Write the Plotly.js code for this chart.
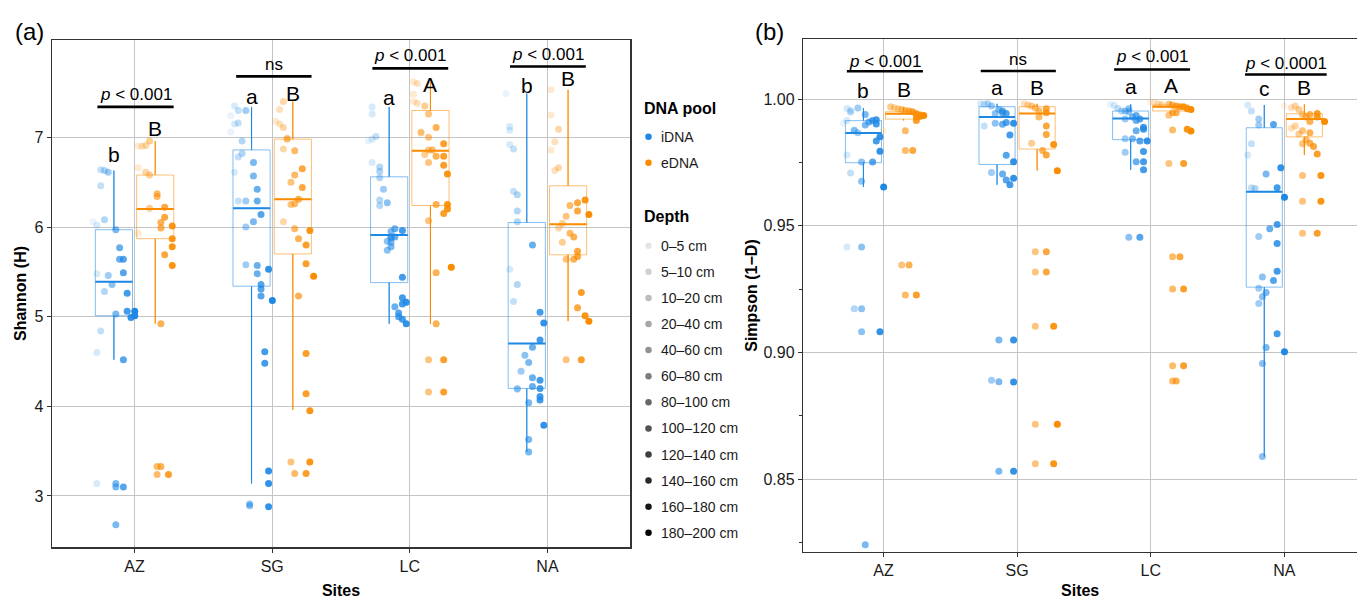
<!DOCTYPE html>
<html>
<head>
<meta charset="utf-8">
<script src="https://cdn.plot.ly/plotly-3.0.1.min.js"></script>
<style>html,body{margin:0;padding:0;background:#fff}#chart{width:1357px;height:599px}</style>
</head>
<body>
<div id="chart"></div>
<script>
// ---------------- DATA ----------------
const sites = ['AZ', 'SG', 'LC', 'NA'];
const pools = ['iDNA', 'eDNA'];
const depthLabels = ['0–5 cm', '5–10 cm', '10–20 cm', '20–40 cm', '40–60 cm', '60–80 cm',
  '80–100 cm', '100–120 cm', '120–140 cm', '140–160 cm', '160–180 cm', '180–200 cm'];

// Shannon (H): [value, depth class index]
const H_AZ_iDNA = [[6.64,2],[6.63,3],[6.61,4],[6.46,2],[6.06,0],[6.02,1],[6.08,3],[5.97,6],[5.77,7],[5.64,7],[5.64,8],[5.49,8],[5.46,4],[5.48,1],[5.36,5],[5.28,3],[5.26,9],[5.06,9],[5.06,11],[5.03,6],[4.99,10],[5.01,11],[4.84,2],[4.60,1],[4.52,8],[3.14,1],[3.14,6],[3.10,6],[3.10,8],[2.68,6]];
const H_AZ_eDNA = [[6.96,4],[6.91,3],[6.90,1],[6.90,2],[6.66,1],[6.61,3],[6.58,4],[6.37,6],[6.34,6],[6.21,4],[6.22,8],[6.11,8],[6.05,7],[5.99,7],[6.01,10],[5.93,1],[5.87,10],[5.78,10],[5.69,8],[5.57,10],[4.92,7],[3.33,6],[3.33,7],[3.24,6],[3.24,9]];
const H_SG_iDNA = [[7.35,1],[7.30,2],[7.30,4],[7.24,0],[7.16,2],[7.15,1],[7.06,0],[6.96,3],[6.82,3],[6.78,2],[6.72,6],[6.61,1],[6.57,6],[6.42,7],[6.29,7],[6.29,2],[6.29,4],[6.14,8],[6.06,6],[6.00,4],[5.58,4],[5.57,7],[5.53,10],[5.48,7],[5.36,8],[5.31,8],[5.23,8],[5.18,11],[4.61,9],[4.48,9],[3.28,10],[3.14,10],[2.91,5],[2.89,5],[2.88,10]];
const H_SG_eDNA = [[7.40,3],[7.31,2],[7.18,1],[7.15,2],[7.11,3],[6.99,4],[6.98,4],[6.87,3],[6.85,6],[6.65,8],[6.58,6],[6.50,5],[6.44,8],[6.31,7],[6.25,5],[6.26,6],[6.06,3],[5.98,6],[5.96,10],[5.87,7],[5.80,9],[5.59,9],[5.45,11],[5.23,7],[4.59,9],[4.14,9],[3.95,10],[3.38,5],[3.38,10],[3.25,6],[3.25,9]];
const H_LC_iDNA = [[7.34,1],[7.26,1],[7.01,2],[6.98,1],[6.96,0],[6.72,1],[6.67,3],[6.62,3],[6.55,3],[6.42,4],[6.30,3],[6.27,5],[6.24,3],[5.98,7],[5.96,9],[5.95,6],[5.89,6],[5.89,7],[5.88,6],[5.84,5],[5.83,6],[5.78,6],[5.74,5],[5.44,9],[5.21,9],[5.16,10],[5.14,9],[5.11,7],[5.04,8],[5.00,8],[4.97,9],[4.92,10]];
const H_LC_eDNA = [[7.62,1],[7.60,2],[7.48,1],[7.40,1],[7.38,2],[7.35,4],[7.26,5],[7.11,7],[7.06,3],[7.05,3],[7.00,5],[6.93,9],[6.86,5],[6.86,6],[6.81,4],[6.79,7],[6.79,9],[6.72,5],[6.69,9],[6.59,10],[6.25,7],[6.25,10],[6.20,10],[6.15,9],[6.07,5],[5.55,11],[5.49,7],[4.92,7],[4.52,5],[4.52,9],[4.16,5],[4.16,9]];
const H_NA_iDNA = [[7.49,0],[7.12,1],[7.08,1],[6.92,1],[6.87,2],[6.40,2],[6.36,3],[6.18,3],[6.06,3],[5.80,7],[5.53,1],[5.36,3],[5.17,2],[5.05,9],[4.93,10],[4.74,9],[4.66,7],[4.57,5],[4.49,6],[4.39,4],[4.32,7],[4.29,9],[4.22,7],[4.20,9],[4.20,3],[4.19,3],[4.11,9],[4.07,9],[4.04,6],[3.79,10],[3.63,6],[3.49,6]];
const H_NA_eDNA = [[7.53,1],[7.25,1],[7.09,3],[6.95,2],[6.86,1],[6.66,3],[6.63,2],[6.30,10],[6.27,8],[6.24,6],[6.18,8],[6.14,11],[6.12,5],[6.04,4],[5.99,3],[5.93,6],[5.89,7],[5.83,4],[5.73,8],[5.67,8],[5.64,7],[5.64,5],[5.27,9],[5.10,8],[5.01,10],[4.95,11],[4.52,5],[4.52,9]];

// Shannon box statistics per site (AZ, SG, LC, NA)
const H_iDNA_lower  = [4.52, 3.14, 4.92, 3.49];
const H_iDNA_q1     = [5.01, 5.34, 5.38, 4.20];
const H_iDNA_median = [5.39, 6.21, 5.91, 4.70];
const H_iDNA_q3     = [5.97, 6.86, 6.56, 6.05];
const H_iDNA_upper  = [6.63, 7.34, 7.34, 7.49];
const H_eDNA_lower  = [4.92, 3.96, 4.92, 4.95];
const H_eDNA_q1     = [5.87, 5.70, 6.24, 5.69];
const H_eDNA_median = [6.20, 6.31, 6.85, 6.03];
const H_eDNA_q3     = [6.58, 6.98, 7.30, 6.46];
const H_eDNA_upper  = [6.96, 7.40, 7.62, 7.53];

// Simpson (1-D): [value, depth class index]
const S_AZ_iDNA = [[0.9965,4],[0.9963,1],[0.9955,2],[0.9948,2],[0.9939,6],[0.9919,9],[0.9916,8],[0.9916,1],[0.9910,7],[0.9905,0],[0.9902,9],[0.9898,6],[0.9878,3],[0.9875,3],[0.9867,4],[0.9851,10],[0.9835,9],[0.9794,10],[0.9779,1],[0.9752,5],[0.9752,8],[0.9708,2],[0.9676,5],[0.9653,11],[0.9416,1],[0.9416,5],[0.9173,3],[0.9173,5],[0.9082,5],[0.9082,10],[0.8241,6]];
const S_AZ_eDNA = [[0.9875,0],[0.9970,2],[0.9969,2],[0.9966,3],[0.9962,4],[0.9959,5],[0.9955,6],[0.9953,7],[0.9950,8],[0.9942,9],[0.9935,10],[0.9935,11],[0.9932,10],[0.9929,9],[0.9916,9],[0.9875,6],[0.9797,6],[0.9797,8],[0.9345,5],[0.9345,7],[0.9227,6],[0.9227,9]];
const S_SG_iDNA = [[0.9982,1],[0.9982,3],[0.9980,2],[0.9973,4],[0.9959,6],[0.9953,7],[0.9946,7],[0.9943,8],[0.9943,5],[0.9894,2],[0.9905,5],[0.9901,7],[0.9908,8],[0.9905,10],[0.9858,9],[0.9778,8],[0.9710,4],[0.9704,7],[0.9753,10],[0.9681,8],[0.9688,10],[0.9662,9],[0.9049,6],[0.9049,10],[0.8891,4],[0.8885,6],[0.8884,10],[0.8531,6],[0.8531,10]];
const S_SG_eDNA = [[0.9982,2],[0.9977,3],[0.9973,4],[0.9966,5],[0.9953,6],[0.9962,8],[0.9946,8],[0.9929,6],[0.9894,8],[0.9860,8],[0.9826,4],[0.9797,7],[0.9779,8],[0.9821,10],[0.9717,11],[0.9398,5],[0.9398,8],[0.9318,5],[0.9318,8],[0.9104,5],[0.9104,10],[0.8717,5],[0.8717,11],[0.8561,5],[0.8561,10]];
const S_LC_iDNA = [[0.9980,0],[0.9976,1],[0.9963,2],[0.9962,5],[0.9953,3],[0.9953,4],[0.9950,5],[0.9935,7],[0.9929,6],[0.9921,4],[0.9921,8],[0.9916,7],[0.9889,9],[0.9881,9],[0.9875,7],[0.9844,6],[0.9844,4],[0.9835,8],[0.9835,10],[0.9793,9],[0.9790,4],[0.9753,7],[0.9753,9],[0.9721,9],[0.9455,5],[0.9455,8]];
const S_LC_eDNA = [[0.9989,0],[0.9986,1],[0.9982,2],[0.9980,5],[0.9978,3],[0.9976,6],[0.9973,7],[0.9970,8],[0.9970,9],[0.9962,10],[0.9959,11],[0.9946,6],[0.9946,7],[0.9936,5],[0.9881,10],[0.9878,6],[0.9874,11],[0.9746,5],[0.9746,9],[0.9378,6],[0.9378,8],[0.9251,6],[0.9251,9],[0.8948,6],[0.8948,9],[0.8888,6],[0.8888,7]];
const S_NA_iDNA = [[0.9977,1],[0.9953,2],[0.9921,4],[0.9898,4],[0.9900,8],[0.9824,2],[0.9779,1],[0.9704,6],[0.9729,10],[0.9650,2],[0.9647,3],[0.9650,9],[0.9613,11],[0.9505,9],[0.9488,7],[0.9458,4],[0.9430,9],[0.9298,5],[0.9284,8],[0.9321,9],[0.9254,4],[0.9220,5],[0.9237,6],[0.9193,4],[0.9074,9],[0.9020,6],[0.9003,11],[0.8957,5],[0.8590,5]];
const S_NA_eDNA = [[0.9973,0],[0.9973,3],[0.9966,2],[0.9959,4],[0.9939,5],[0.9929,6],[0.9939,7],[0.9943,9],[0.9929,9],[0.9912,11],[0.9885,2],[0.9894,3],[0.9875,5],[0.9912,7],[0.9867,7],[0.9862,4],[0.9824,5],[0.9840,6],[0.9826,7],[0.9813,8],[0.9783,9],[0.9699,5],[0.9699,10],[0.9597,5],[0.9597,10],[0.9471,5],[0.9471,9]];

// Simpson box statistics per site (AZ, SG, LC, NA)
const S_iDNA_lower  = [0.9653, 0.9662, 0.9721, 0.8590];
const S_iDNA_q1     = [0.9749, 0.9742, 0.9840, 0.9258];
const S_iDNA_median = [0.9866, 0.9929, 0.9923, 0.9634];
const S_iDNA_q3     = [0.9915, 0.9970, 0.9953, 0.9887];
const S_iDNA_upper  = [0.9965, 0.9982, 0.9980, 0.9977];
const S_eDNA_lower  = [0.9916, 0.9718, 0.9939, 0.9779];
const S_eDNA_q1     = [0.9921, 0.9803, 0.9953, 0.9851];
const S_eDNA_median = [0.9942, 0.9943, 0.9970, 0.9921];
const S_eDNA_q3     = [0.9950, 0.9970, 0.9977, 0.9942];
const S_eDNA_upper  = [0.9969, 0.9982, 0.9991, 0.9980];

// Test results
const H_pText = ['<i>p</i> < 0.001', 'ns', '<i>p</i> < 0.001', '<i>p</i> < 0.001'];
const H_letters_iDNA = ['b', 'a', 'a', 'b'];
const H_letters_eDNA = ['B', 'B', 'A', 'B'];
const S_pText = ['<i>p</i> < 0.001', 'ns', '<i>p</i> < 0.001', '<i>p</i> < 0.0001'];
const S_letters_iDNA = ['b', 'a', 'a', 'c'];
const S_letters_eDNA = ['B', 'B', 'A', 'B'];

// ---------------- STYLE / BUILD ----------------
const W = 1357, Hh = 599;
const FONT = 'Liberation Sans, Arial, Helvetica, sans-serif';
const COL = {iDNA: [30, 136, 229], eDNA: [251, 140, 0]};
const rgba = (c, a) => `rgba(${c[0]},${c[1]},${c[2]},${a})`;
const alphaOf = d => 0.1 + 0.9 * d / 11;
const poolOff = {iDNA: -0.15, eDNA: 0.15};
const dodgeStep = 0.0275;
const boxW = 0.27;

const groupsH = {iDNA: [H_AZ_iDNA, H_SG_iDNA, H_LC_iDNA, H_NA_iDNA], eDNA: [H_AZ_eDNA, H_SG_eDNA, H_LC_eDNA, H_NA_eDNA]};
const groupsS = {iDNA: [S_AZ_iDNA, S_SG_iDNA, S_LC_iDNA, S_NA_iDNA], eDNA: [S_AZ_eDNA, S_SG_eDNA, S_LC_eDNA, S_NA_eDNA]};
const statsH = {
  iDNA: {lower: H_iDNA_lower, q1: H_iDNA_q1, median: H_iDNA_median, q3: H_iDNA_q3, upper: H_iDNA_upper},
  eDNA: {lower: H_eDNA_lower, q1: H_eDNA_q1, median: H_eDNA_median, q3: H_eDNA_q3, upper: H_eDNA_upper}
};
const statsS = {
  iDNA: {lower: S_iDNA_lower, q1: S_iDNA_q1, median: S_iDNA_median, q3: S_iDNA_q3, upper: S_iDNA_upper},
  eDNA: {lower: S_eDNA_lower, q1: S_eDNA_q1, median: S_eDNA_median, q3: S_eDNA_q3, upper: S_eDNA_upper}
};

const traces = [];
function addPanel(groups, stats, xa, ya) {
  pools.forEach(pool => {
    const st = stats[pool], col = COL[pool];
    const cx = sites.map((s, i) => i + 1 + poolOff[pool]);
    traces.push({
      type: 'box', x: cx, q1: st.q1, median: st.median, q3: st.q3,
      lowerfence: st.lower, upperfence: st.upper, width: boxW, whiskerwidth: 0,
      boxpoints: false, line: {color: rgba(col, 0.55), width: 1},
      fillcolor: 'rgba(0,0,0,0)', xaxis: xa, yaxis: ya, hoverinfo: 'skip', showlegend: false, name: pool
    });
    const lx = [], ly = [], mx = [], my = [];
    cx.forEach((c, i) => {
      lx.push(c, c, null, c, c, null);
      ly.push(st.q3[i], st.upper[i], null, st.q1[i], st.lower[i], null);
      mx.push(c - boxW / 2, c + boxW / 2, null);
      my.push(st.median[i], st.median[i], null);
    });
    traces.push({type: 'scatter', mode: 'lines', x: lx, y: ly, line: {color: rgba(col, 1), width: 1.1},
      xaxis: xa, yaxis: ya, hoverinfo: 'skip', showlegend: false});
    traces.push({type: 'scatter', mode: 'lines', x: mx, y: my, line: {color: rgba(col, 1), width: 2},
      xaxis: xa, yaxis: ya, hoverinfo: 'skip', showlegend: false});
  });
  pools.forEach(pool => {
    const col = COL[pool];
    const x = [], y = [], c = [];
    groups[pool].forEach((pts, si) => {
      pts.forEach(([v, d]) => {
        x.push(si + 1 + poolOff[pool] + (d - 5.5) * dodgeStep);
        y.push(v);
        c.push(rgba(col, alphaOf(d)));
      });
    });
    traces.push({type: 'scatter', mode: 'markers', x, y, marker: {size: 7, color: c, line: {width: 0}},
      xaxis: xa, yaxis: ya, hoverinfo: 'skip', showlegend: false, name: pool});
  });
}
addPanel(groupsH, statsH, 'x', 'y');
addPanel(groupsS, statsS, 'x2', 'y2');

// Legend (drawn on a hidden pixel-scaled axis)
const legX = 648.5, legTextX = 659;
const poolRowY = [136.7, 162.7];
const depthRow0 = 245.7, depthStep = 26.1;
traces.push({type: 'scatter', mode: 'markers', x: pools.map(() => legX), y: poolRowY,
  marker: {size: 6.5, color: pools.map(p => rgba(COL[p], 1))}, xaxis: 'x3', yaxis: 'y3', hoverinfo: 'skip', showlegend: false});
traces.push({type: 'scatter', mode: 'markers', x: depthLabels.map(() => legX),
  y: depthLabels.map((l, i) => depthRow0 + i * depthStep),
  marker: {size: 6.5, color: depthLabels.map((l, i) => `rgba(0,0,0,${alphaOf(i)})`)},
  xaxis: 'x3', yaxis: 'y3', hoverinfo: 'skip', showlegend: false});

const annotations = [];
const shapes = [];
const txt = (text, x, y, xref, yref, size, opts) => Object.assign({text, x, y, xref, yref, showarrow: false,
  font: {family: FONT, size, color: '#000'}, xanchor: 'center', yanchor: 'middle'}, opts || {});

// legend texts
annotations.push(txt('<b>DNA pool</b>', 641.5, 108.3, 'x3', 'y3', 16, {xanchor: 'left'}));
pools.forEach((p, i) => annotations.push(txt(p, legTextX, poolRowY[i], 'x3', 'y3', 14, {xanchor: 'left', font: {family: FONT, size: 14, color: '#1a1a1a'}})));
annotations.push(txt('<b>Depth</b>', 641.5, 216.7, 'x3', 'y3', 16, {xanchor: 'left'}));
depthLabels.forEach((l, i) => annotations.push(txt(l, legTextX, depthRow0 + i * depthStep, 'x3', 'y3', 14, {xanchor: 'left', font: {family: FONT, size: 14, color: '#1a1a1a'}})));

// significance annotations (layout positions)
const sigH = {p: [7.48, 7.81, 7.91, 7.92], bar: [7.34, 7.68, 7.77, 7.79],
  li: [6.81, 7.455, 7.44, 7.58], le: [7.10, 7.49, 7.59, 7.66], b0: [-0.27, -0.262, -0.272, -0.272], b1: [0.284, 0.286, 0.279, 0.279]};
const sigS = {p: [1.0147, 1.0158, 1.0167, 1.0141], bar: [1.0110, 1.0111, 1.0117, 1.0097],
  li: [1.0033, 1.0044, 1.0051, 1.0040], le: [1.0038, 1.0047, 1.0055, 1.0046], b0: [-0.274, -0.272, -0.274, -0.294], b1: [0.295, 0.29, 0.295, 0.317]};
function addSig(pText, li, le, pos, xr, yr) {
  sites.forEach((s, i) => {
    const c = i + 1;
    annotations.push(txt(pText[i], c + (pos.b0[i] + pos.b1[i]) / 2, pos.p[i], xr, yr, 17));
    shapes.push({type: 'line', xref: xr, yref: yr, x0: c + pos.b0[i], x1: c + pos.b1[i], y0: pos.bar[i], y1: pos.bar[i],
      line: {color: '#000', width: 2.6}});
    annotations.push(txt(li[i], c + poolOff.iDNA, pos.li[i], xr, yr, 21));
    annotations.push(txt(le[i], c + poolOff.eDNA, pos.le[i], xr, yr, 21));
  });
}
addSig(H_pText, H_letters_iDNA, H_letters_eDNA, sigH, 'x', 'y');
addSig(S_pText, S_letters_iDNA, S_letters_eDNA, sigS, 'x2', 'y2');

annotations.push(txt('(a)', 29.7 / W, 1 - 31 / Hh, 'paper', 'paper', 24));
annotations.push(txt('(b)', 769.3 / W, 1 - 31 / Hh, 'paper', 'paper', 24));

const axBase = {
  showgrid: true, gridcolor: '#c4c4c4', gridwidth: 1, zeroline: false,
  showline: true, linecolor: '#333', linewidth: 1.5,
  ticks: 'outside', ticklen: 4, tickcolor: '#333', tickwidth: 1,
  tickfont: {family: FONT, size: 16, color: '#1a1a1a'}, fixedrange: true
};
const titleFont = {family: FONT, size: 16, color: '#000'};

const layout = {
  width: W, height: Hh, margin: {l: 0, r: 0, t: 0, b: 0},
  paper_bgcolor: '#fff', plot_bgcolor: '#fff', showlegend: false,
  font: {family: FONT, size: 15, color: '#1a1a1a'},
  xaxis: Object.assign({}, axBase, {domain: [52 / W, 630 / W], range: [0.4, 4.6], anchor: 'y', mirror: true,
    tickmode: 'array', tickvals: sites.map((s, i) => i + 1), ticktext: sites,
    title: {text: '<b>Sites</b>', font: titleFont, standoff: 11}}),
  yaxis: Object.assign({}, axBase, {domain: [1 - 547 / Hh, 1 - 40 / Hh], range: [2.431, 8.086], anchor: 'x', mirror: true,
    tickmode: 'array', tickvals: [3, 4, 5, 6, 7],
    title: {text: '<b>Shannon (H)</b>', font: titleFont, standoff: 4}}),
  xaxis2: Object.assign({}, axBase, {domain: [803.3 / W, 1], range: [0.4, 4.544], anchor: 'y2', mirror: true,
    tickmode: 'array', tickvals: sites.map((s, i) => i + 1), ticktext: sites,
    title: {text: '<b>Sites</b>', font: titleFont, standoff: 11}}),
  yaxis2: Object.assign({}, axBase, {domain: [1 - 551.7 / Hh, 1 - 39.3 / Hh], range: [0.8214, 1.0236], anchor: 'x2', mirror: false,
    tickmode: 'array', tickvals: [0.85, 0.90, 0.95, 1.00], ticktext: ['0.85', '0.90', '0.95', '1.00'],
    minor: {tickmode: 'array', tickvals: [0.825, 0.875, 0.925, 0.975], ticks: 'outside', ticklen: 3, tickcolor: '#333', showgrid: false},
    title: {text: '<b>Simpson (1−D)</b>', font: titleFont, standoff: 2}}),
  xaxis3: {domain: [636 / W, 790 / W], range: [636, 790], visible: false, fixedrange: true, anchor: 'y3'},
  yaxis3: {domain: [0, 1], range: [599, 0], visible: false, fixedrange: true, anchor: 'x3'},
  annotations, shapes
};

Plotly.newPlot('chart', traces, layout, {staticPlot: true, displayModeBar: false});
</script>
</body>
</html>
